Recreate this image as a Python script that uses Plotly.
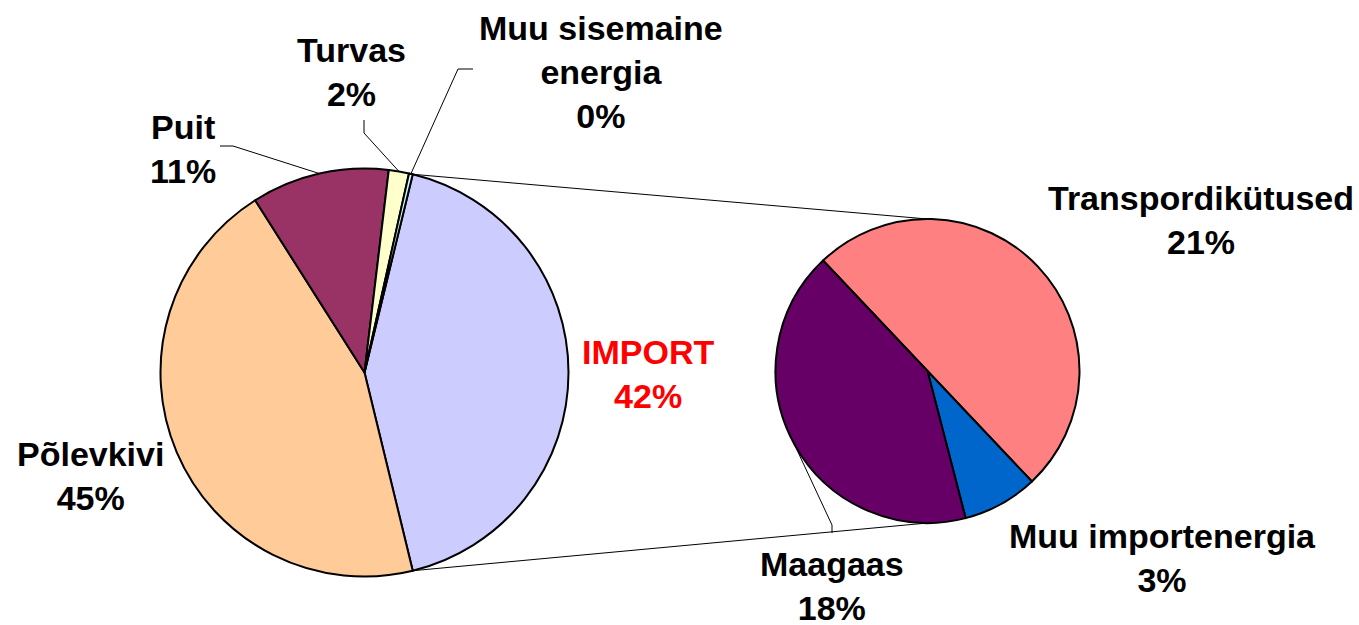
import math
import plotly.graph_objects as go

W, H = 1359, 625

# share of total primary energy, %
main_labels = ["IMPORT", "Põlevkivi", "Puit", "Turvas", "Muu sisemaine energia"]
main_values = [42.4, 44.8, 10.9, 1.6, 0.3]
main_colors = ["#CCCCFF", "#FFCC99", "#993366", "#FFFFCC", "#CCFFFF"]

import_labels = ["Transpordikütused", "Muu importenergia", "Maagaas"]
import_values = [21.2, 3.4, 17.8]
import_colors = ["#FF8080", "#0066CC", "#660066"]

total = sum(main_values)

# pie geometry in pixels (center x, center y, radius)
L_CX, L_CY, L_R = 364.5, 372.5, 204
R_CX, R_CY, R_R = 927.5, 371, 152
R_ROT = -43.4


def px(x):
    return x / W


def py(y):
    return 1 - y / H


def on_circle(cx, cy, r, deg):
    a = math.radians(deg)
    return cx + r * math.sin(a), cy - r * math.cos(a)


def mid_angles(values, rot):
    s = sum(values)
    out, cur = [], rot
    for v in values:
        span = 360 * v / s
        out.append(cur + span / 2)
        cur += span
    return out


l_rot = 90 - 180 * main_values[0] / total

fig = go.Figure()
fig.add_trace(go.Pie(
    labels=main_labels,
    values=main_values,
    marker=dict(colors=main_colors, line=dict(color="black", width=2)),
    sort=False,
    direction="clockwise",
    rotation=l_rot,
    textinfo="none",
    hoverinfo="label+percent",
    domain=dict(x=[px(L_CX - L_R), px(L_CX + L_R)],
                y=[py(L_CY + L_R), py(L_CY - L_R)]),
))
fig.add_trace(go.Pie(
    labels=import_labels,
    values=import_values,
    marker=dict(colors=import_colors, line=dict(color="black", width=2)),
    sort=False,
    direction="clockwise",
    rotation=R_ROT,
    textinfo="none",
    hoverinfo="label+value",
    domain=dict(x=[px(R_CX - R_R), px(R_CX + R_R)],
                y=[py(R_CY + R_R), py(R_CY - R_R)]),
))

shapes = []


def line(x0, y0, x1, y1):
    shapes.append(dict(type="line", xref="paper", yref="paper",
                       x0=px(x0), y0=py(y0), x1=px(x1), y1=py(y1),
                       line=dict(color="black", width=1), layer="below"))


# connector lines between the IMPORT slice and the second pie
imp_span = 360 * main_values[0] / total
x0, y0 = on_circle(L_CX, L_CY, L_R, l_rot)
x1, y1 = on_circle(L_CX, L_CY, L_R, l_rot + imp_span)
line(x0, y0, R_CX, R_CY - R_R)
line(x1, y1, R_CX, R_CY + R_R)

# leader lines
lm = mid_angles(main_values, l_rot)
rm = mid_angles(import_values, R_ROT)
leaders = [
    (on_circle(L_CX, L_CY, L_R, lm[2]), (233, 146), (220, 146)),
    (on_circle(L_CX, L_CY, L_R, lm[3]), (364, 133), (364, 120)),
    (on_circle(L_CX, L_CY, L_R, lm[4]), (458, 69), (473, 69)),
    (on_circle(R_CX, R_CY, R_R, rm[2]), (832, 525), (832, 533)),
]
for (ax, ay), (ex, ey), (tx, ty) in leaders:
    line(ax, ay, ex, ey)
    line(ex, ey, tx, ty)


def pct(v):
    return f"{round(100 * v / total)}%"


label_pos = {
    "IMPORT": (648, 374),
    "Põlevkivi": (90, 476),
    "Puit": (183, 149),
    "Turvas": (351, 72),
    "Muu sisemaine energia": (601, 72),
    "Transpordikütused": (1201, 220),
    "Muu importenergia": (1162, 558),
    "Maagaas": (832, 586),
}
display = {"Muu sisemaine energia": "Muu sisemaine<br>energia"}

annotations = []
for lab, val in list(zip(main_labels, main_values)) + list(zip(import_labels, import_values)):
    x, y = label_pos[lab]
    annotations.append(dict(
        x=px(x), y=py(y), xref="paper", yref="paper",
        text=f"<b>{display.get(lab, lab)}<br>{pct(val)}</b>",
        showarrow=False, xanchor="center", yanchor="middle",
        font=dict(size=34, color="red" if lab == "IMPORT" else "black"),
    ))

fig.update_layout(
    width=W, height=H,
    margin=dict(l=0, r=0, t=0, b=0),
    showlegend=False,
    paper_bgcolor="white",
    font=dict(family="Liberation Sans, Arial, sans-serif"),
    shapes=shapes,
    annotations=annotations,
)
fig.write_html("out.html", config={"displayModeBar": False},
               post_script="document.body.style.margin='0';")
